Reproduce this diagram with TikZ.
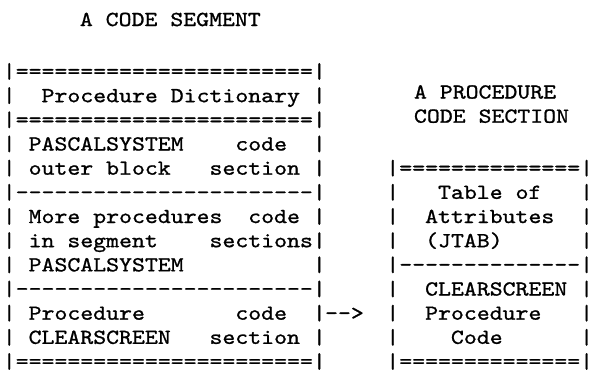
\documentclass[tikz,border=0pt]{standalone}
\usepackage{fontspec}
\setmonofont[FakeStretch=1.15, FakeBold=1]{lmmono10-regular.otf}
\begin{document}
% one unit = one character cell across, one printed line down
\begin{tikzpicture}[x=12.85pt, y=-24.17pt]
				\tikzstyle{Row} = [anchor=base west, inner sep=0pt, font=\ttfamily\fontsize{21.4}{24}\selectfont]
				\path[fill=white, use as bounding box] (-0.2023,-2.227) rectangle (45.868,13.784);
				% titles
				\node (T1) at (6,-1.15) [Row] {A~CODE~SEGMENT};
				\node (T2) at (32,1.85) [Row] {A~PROCEDURE};
				\node (T3) at (32,2.85) [Row] {CODE~SECTION};
				% the code segment
				\node (L1) at (0,1) [Row] {|=======================|};
				\node (L2) at (0,2) [Row] {|~~Procedure~Dictionary~|};
				\node (L3) at (0,3) [Row] {|=======================|};
				\node (L4) at (0,4) [Row] {|~PASCALSYSTEM~~~~code~~|};
				\node (L5) at (0,5) [Row] {|~outer~block~~~section~|};
				\node (L6) at (0,6) [Row] {|-----------------------|};
				\node (L7) at (0,7) [Row] {|~More~procedures~~code~|};
				\node (L8) at (0,8) [Row] {|~in~segment~~~~sections|};
				\node (L9) at (0,9) [Row] {|~PASCALSYSTEM~~~~~~~~~~|};
				\node (L10) at (0,10) [Row] {|-----------------------|};
				\node (L11) at (0,11) [Row] {|~Procedure~~~~~~~code~~|};
				\node (L12) at (0,12) [Row] {|~CLEARSCREEN~~~section~|};
				\node (L13) at (0,13) [Row] {|=======================|};
				\node (arrow) at (25.08,11) [Row] {-{}-{}>};
				% the procedure code section
				\node (R1) at (29.85,5) [Row] {|==============|};
				\node (R2) at (29.85,6) [Row] {|~~~Table~of~~~|};
				\node (R3) at (29.85,7) [Row] {|~~Attributes~~|};
				\node (R4) at (29.85,8) [Row] {|~~(JTAB)~~~~~~|};
				\node (R5) at (29.85,9) [Row] {|--------------|};
				\node (R6) at (29.85,10) [Row] {|~~CLEARSCREEN~|};
				\node (R7) at (29.85,11) [Row] {|~~Procedure~~~|};
				\node (R8) at (29.85,12) [Row] {|~~~~Code~~~~~~|};
				\node (R9) at (29.85,13) [Row] {|==============|};
			\end{tikzpicture}
\end{document}
